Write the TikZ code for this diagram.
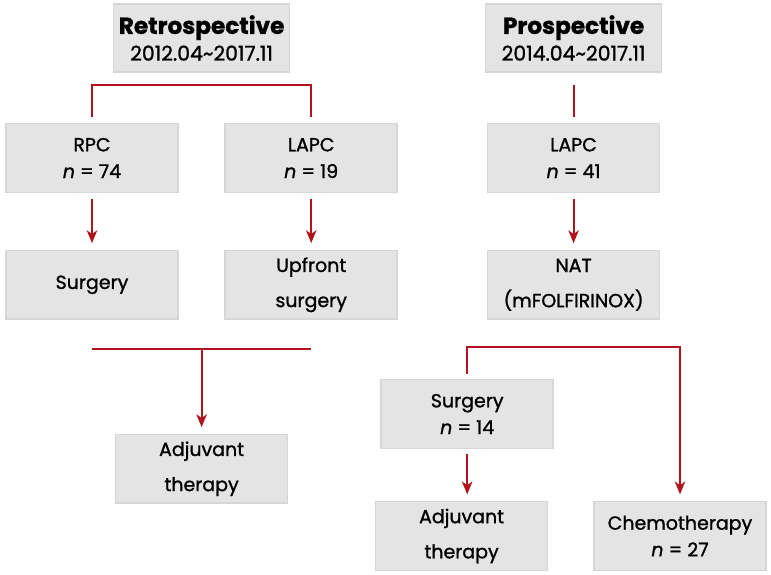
\documentclass[tikz,border=0pt]{standalone}
\usepackage{fontspec}
\setmainfont{Poppins}
\newfontfamily\medfont{Poppins}[FakeBold=1.2]
\usepackage{xcolor}
\usepackage{tikz}
\usetikzlibrary{arrows.meta,positioning,calc}

\definecolor{boxgray}{RGB}{228,228,228}
\definecolor{boxedge}{RGB}{214,214,214}
\definecolor{flowred}{RGB}{176,20,28}

\begin{document}
\begin{tikzpicture}[
    font=\medfont\fontsize{13.5}{19}\selectfont,
    box/.style={draw=boxedge, fill=boxgray, line width=1.2pt, align=center,
                minimum width=43mm, minimum height=17.2mm, inner sep=2pt},
    head/.style={box, minimum width=44mm, minimum height=17mm},
    link/.style={draw=flowred, line width=1.4pt},
    arrow/.style={-{Stealth[length=3.2mm,width=2.6mm,inset=0.9mm]}, draw=flowred, line width=1.4pt,
                  shorten >=1.6mm}
]
\useasboundingbox (0,0) rectangle (19.275,-14.375);

\node[head] (retro) at (5.04,-0.95)
    {{\fontsize{16.5}{21}\selectfont\bfseries Retrospective}\\\fontsize{14.5}{21}\selectfont 2012.04\textasciitilde2017.11};
\node[head] (pro) at (14.34,-0.95)
    {{\fontsize{16.5}{21}\selectfont\bfseries Prospective}\\\fontsize{14.5}{21}\selectfont 2014.04\textasciitilde2017.11};

\node[box] (rpc) at (2.3,-3.95) {RPC\\\textit{n} = 74};
\node[box] (lapcL) at (7.78,-3.95) {LAPC\\\textit{n} = 19};
\node[box] (lapcR) at (14.34,-3.95) {LAPC\\\textit{n} = 41};

\node[box] (surgL) at (2.3,-7.12) {Surgery};
\node[box] (upfront) at (7.78,-7.12) {Upfront\\[6pt]surgery};
\node[box] (nat) at (14.34,-7.12) {NAT\\[6pt](mFOLFIRINOX)};

\node[box] (adjL) at (5.04,-11.72) {Adjuvant\\[6pt]therapy};
\node[box] (surg14) at (11.68,-10.35) {Surgery\\\textit{n} = 14};
\node[box] (adjR) at (11.54,-13.4) {Adjuvant\\[6pt]therapy};
\node[box] (chemo) at (17.0,-13.4) {Chemotherapy\\\textit{n} = 27};

% retrospective branch
\coordinate (retroSplit) at ([yshift=-3mm]retro.south);
\draw[link] ([yshift=1.5mm]rpc.north) |- (retroSplit) -| ([yshift=1.5mm]lapcL.north);
\draw[link] ([yshift=-3mm]pro.south) -- ([yshift=1.5mm]lapcR.north);

\draw[arrow] ([yshift=-1.4mm]rpc.south) -- (surgL.north);
\draw[arrow] ([yshift=-1.4mm]lapcL.south) -- (upfront.north);
\draw[arrow] ([yshift=-1.4mm]lapcR.south) -- (nat.north);

\coordinate (mergeL) at ([yshift=-7.2mm]upfront.south);
\draw[link] ([yshift=-7.2mm]surgL.south) -- (mergeL);
\draw[arrow] (adjL.north |- mergeL) -- (adjL.north);

% prospective branch
\coordinate (natSplit) at ([yshift=-6.7mm]nat.south);
\draw[arrow] ([yshift=1.3mm]surg14.north) |- (natSplit) -| (chemo.north);
\draw[arrow] ([yshift=-1.2mm]surg14.south) -- (surg14.south |- adjR.north);

\end{tikzpicture}
\end{document}
